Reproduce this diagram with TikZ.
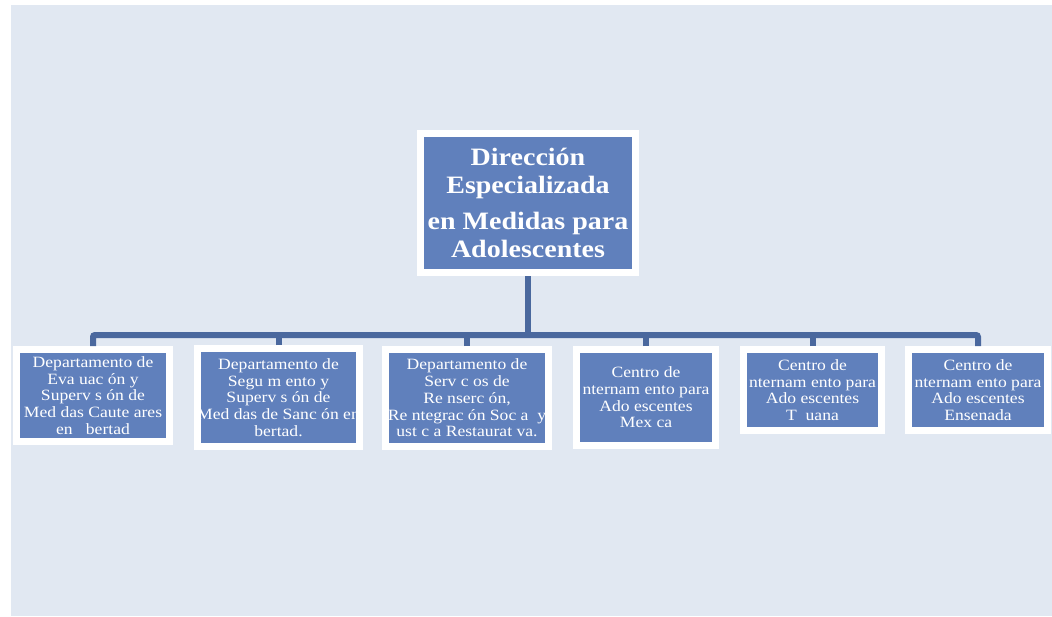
\documentclass[tikz,border=0pt]{standalone}
\usepackage{fontspec}
\setmainfont{Liberation Serif}[FakeStretch=1.12]
\definecolor{bgblue}{RGB}{225,232,242}
\definecolor{boxblue}{RGB}{96,128,188}
\definecolor{linkblue}{RGB}{74,104,158}

\begin{document}
\begin{tikzpicture}[x=1pt,y=-1pt,
  every node/.style={rectangle,draw=white,line width=7pt,fill=boxblue,
    text=white,align=center,inner sep=0pt,
    font=\fontsize{15.7}{16.7}\selectfont},
  link/.style={draw=linkblue,line width=6pt}]
  \useasboundingbox (0,0) rectangle (1052,616);
  \fill[bgblue] (11,5) rectangle (1052,616);

  \node[minimum width=215pt,minimum height=139pt,
    font=\fontsize{25}{28}\selectfont\bfseries] (dir) at (528,203)
    {Dirección\\Especializada\\[8pt]en Medidas para\\Adolescentes};

  \node[minimum width=153pt,minimum height=92pt] (c1) at (93,395.5)
    {Departamento de\\Eva uac ón y\\Superv s ón de\\Med das Caute ares\\en \ \ bertad};
  \node[minimum width=162pt,minimum height=98pt] (c2) at (278.5,397.5)
    {Departamento de\\Segu m ento y\\Superv s ón de\\Med das de Sanc ón en\\bertad.};
  \node[minimum width=163pt,minimum height=97pt] (c3) at (467,398)
    {Departamento de\\Serv c os de\\Re nserc ón,\\Re ntegrac ón Soc a \ y\\ust c a Restaurat va.};
  \node[minimum width=139pt,minimum height=96pt] (c4) at (646,397.5)
    {Centro de\\nternam ento para\\Ado escentes\\Mex ca};
  \node[minimum width=138pt,minimum height=81pt] (c5) at (812.5,390)
    {Centro de\\nternam ento para\\Ado escentes\\T \ uana};
  \node[minimum width=139pt,minimum height=81pt] (c6) at (978,390)
    {Centro de\\nternam ento para\\Ado escentes\\Ensenada};

  \coordinate (bar) at (528,335);
  \draw[link] (dir.south) -- (dir.south |- bar);
  \draw[link,rounded corners=2pt] (c1.north) |- (bar) -| (c6.north);
  \foreach \n in {2,...,5}
    \draw[link] (c\n.north) -- (c\n.north |- bar);
\end{tikzpicture}
\end{document}
